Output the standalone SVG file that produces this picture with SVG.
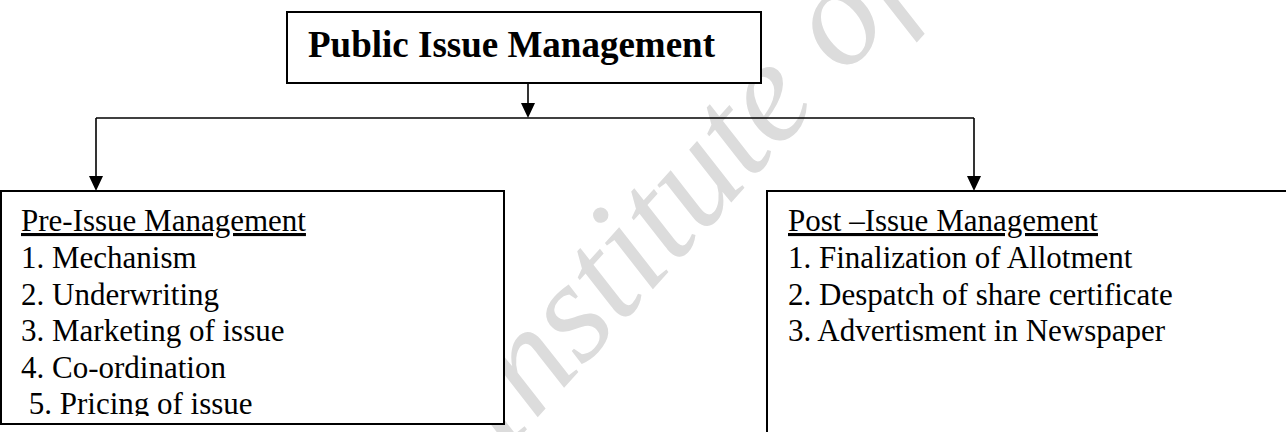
<svg xmlns="http://www.w3.org/2000/svg" width="1286" height="432" viewBox="0 0 1286 432">
  <style>
    .box { fill: #fff; stroke: #000; stroke-width: 2; }
    .wire { fill: none; stroke: #000; stroke-width: 1.6; }
    .head-arrow { fill: #000; }
    .title { font-family: "Liberation Serif", "Times New Roman", serif; font-size: 37px; font-weight: bold; fill: #000; }
    .item { font-family: "Liberation Serif", "Times New Roman", serif; font-size: 31px; fill: #000; }
    .head { text-decoration: underline; }
    .mark { font-family: "Liberation Serif", "Times New Roman", serif; font-size: 145px; font-style: italic; fill: #dcdcdc; }
  </style>
  <defs>
    <clipPath id="preClip">
      <rect x="2" y="192" width="500" height="224"/>
    </clipPath>
  </defs>

  <rect width="1286" height="432" fill="#fff"/>

  <!-- background watermark, sits under the boxes and lines -->
  <text class="mark" x="502" y="457" transform="rotate(-48 502 457)">Institute of</text>

  <g id="connectors">
    <line class="wire" x1="528" y1="83" x2="528" y2="104"/>
    <path class="head-arrow" d="M521,103 L535,103 L528,118 Z"/>
    <line class="wire" x1="96" y1="118" x2="974" y2="118"/>
    <line class="wire" x1="96" y1="118" x2="96" y2="177"/>
    <path class="head-arrow" d="M89,176 L103,176 L96,191 Z"/>
    <line class="wire" x1="974" y1="118" x2="974" y2="177"/>
    <path class="head-arrow" d="M967,176 L981,176 L974,191 Z"/>
  </g>

  <g id="public-issue-management">
    <rect class="box" x="287" y="12" width="474" height="71"/>
    <text class="title" x="308" y="57">Public Issue Management</text>
  </g>

  <g id="pre-issue-management">
    <rect class="box" x="1" y="191" width="503" height="233"/>
    <g clip-path="url(#preClip)">
      <text class="item head" x="21" y="231">Pre-Issue Management</text>
      <text class="item" x="21" y="268">1. Mechanism</text>
      <text class="item" x="21" y="304.5">2. Underwriting</text>
      <text class="item" x="21" y="341">3. Marketing of issue</text>
      <text class="item" x="21" y="377.5">4. Co-ordination</text>
      <text class="item" x="21" y="414" xml:space="preserve"> 5. Pricing of issue</text>
    </g>
  </g>

  <g id="post-issue-management">
    <rect class="box" x="767" y="191" width="560" height="260"/>
    <text class="item head" x="788" y="231">Post –Issue Management</text>
    <text class="item" x="788" y="268">1. Finalization of Allotment</text>
    <text class="item" x="788" y="304.5">2. Despatch of share certificate</text>
    <text class="item" x="788" y="341">3. Advertisment in Newspaper</text>
  </g>
</svg>
